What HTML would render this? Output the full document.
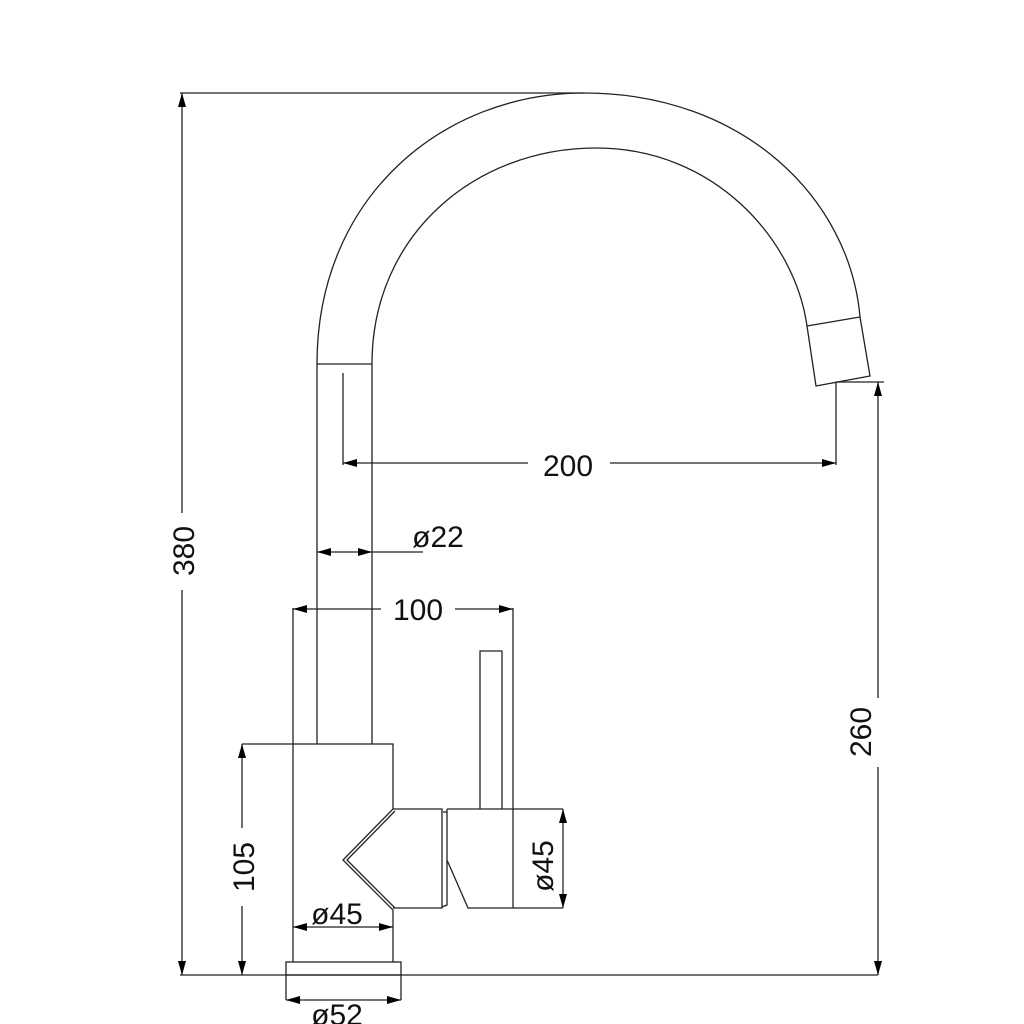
<!DOCTYPE html>
<html><head><meta charset="utf-8"><style>html,body{margin:0;padding:0;background:#fff}svg{display:block}</style></head>
<body>
<svg width="1024" height="1024" viewBox="0 0 1024 1024" xmlns="http://www.w3.org/2000/svg">
<defs>
<marker id="a" viewBox="0 0 14 8" refX="14" refY="4" markerWidth="14" markerHeight="8" markerUnits="userSpaceOnUse" orient="auto-start-reverse"><path d="M0,0 L14,4 L0,8 Z" fill="#000"/></marker>
</defs>
<g fill="none" stroke="#222" stroke-width="1.3">
<path d="M317,364 C317,195 445,93 584,93 C745,93 850,200 860,317"/>
<path d="M372,364 C372,235 475,148 596,148 C715,148 795,240 807,326"/>
<path d="M807,326 L860,317 L870,376 L816,386 Z"/>
<line x1="317" y1="364" x2="372" y2="364"/>
<line x1="317" y1="364" x2="317" y2="744"/>
<line x1="372" y1="364" x2="372" y2="744"/>
<path d="M293,744 L393,744 L393,809 L343,860 L393,910 L393,962"/>
<line x1="293" y1="608" x2="293" y2="962"/>
<path d="M395,811 L347,860 L395,908"/>
<path d="M393,809 L442,809 L442,908 L393,908"/>
<path d="M443,812 L447,812"/>
<path d="M447,809 L563,809 M447,809 L447,860 L468,908 L563,908 M447,860 L447,905 L442,907"/>
<line x1="513" y1="809" x2="513" y2="908"/>
<path d="M480,809 L480,651 L502,651 L502,809"/>
<rect x="286" y="962" width="115" height="13"/>
<line x1="286" y1="975" x2="286" y2="1000"/>
<line x1="401" y1="975" x2="401" y2="1000"/>
<line x1="180" y1="975" x2="878" y2="975"/>
<line x1="180" y1="93" x2="584" y2="93"/>
<line x1="343" y1="373" x2="343" y2="465"/>
<line x1="836" y1="382" x2="836" y2="465"/>
<line x1="836" y1="382" x2="884" y2="382"/>
<line x1="513" y1="608" x2="513" y2="809"/>
<line x1="242" y1="744" x2="293" y2="744"/>
</g>
<g stroke="#222" stroke-width="1.3" fill="none">
<line x1="343" y1="463" x2="528" y2="463" marker-start="url(#a)"/>
<line x1="610" y1="463" x2="836" y2="463" marker-end="url(#a)"/>
<line x1="878" y1="382" x2="878" y2="698" marker-start="url(#a)"/>
<line x1="878" y1="767" x2="878" y2="975" marker-end="url(#a)"/>
<line x1="182" y1="93" x2="182" y2="513" marker-start="url(#a)"/>
<line x1="182" y1="590" x2="182" y2="975" marker-end="url(#a)"/>
<line x1="242" y1="744" x2="242" y2="828" marker-start="url(#a)"/>
<line x1="242" y1="906" x2="242" y2="975" marker-end="url(#a)"/>
<line x1="317" y1="552" x2="372" y2="552" marker-start="url(#a)" marker-end="url(#a)"/>
<line x1="372" y1="552" x2="423" y2="552"/>
<line x1="293" y1="609" x2="381" y2="609" marker-start="url(#a)"/>
<line x1="455" y1="609" x2="513" y2="609" marker-end="url(#a)"/>
<line x1="293" y1="927" x2="393" y2="927" marker-start="url(#a)" marker-end="url(#a)"/>
<line x1="563" y1="809" x2="563" y2="908" marker-start="url(#a)" marker-end="url(#a)"/>
<line x1="286" y1="1000" x2="401" y2="1000" marker-start="url(#a)" marker-end="url(#a)"/>
</g>
<g font-family="Liberation Sans, sans-serif" font-size="30" fill="#111" text-anchor="middle">
<text x="568" y="476">200</text>
<text x="438" y="547">ø22</text>
<text x="418" y="620">100</text>
<text x="337" y="924">ø45</text>
<text x="337" y="1025">ø52</text>
<text transform="translate(194,551) rotate(-90)">380</text>
<text transform="translate(254,867) rotate(-90)">105</text>
<text transform="translate(871,732) rotate(-90)">260</text>
<text transform="translate(553,866) rotate(-90)">ø45</text>
</g>
</svg>
</body></html>
